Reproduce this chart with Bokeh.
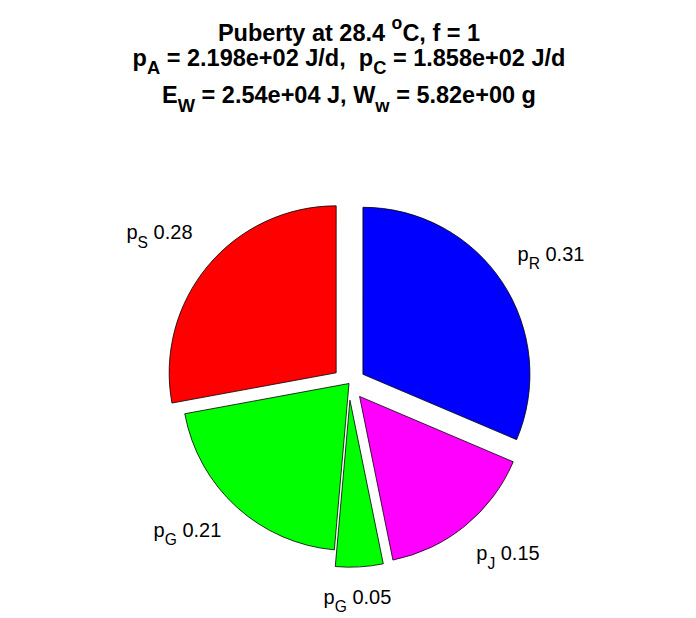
import numpy as np
from bokeh.plotting import figure
from bokeh.models import Range1d
from bokeh.core.properties import value
from bokeh.embed import file_html
from bokeh.resources import INLINE

# ---- data -------------------------------------------------------------
flux_subscripts = ["R", "J", "G", "G", "S"]
flux_fractions = [0.314, 0.154, 0.046, 0.207, 0.279]
slice_exploded = [1, 1, 1, 0, 1]
slice_colors = ["#0000ff", "#ff00ff", "#00ff00", "#00ff00", "#ff0000"]

temperature_C = 28.4
f_food = 1
p_A = 2.198e+02
p_C = 1.858e+02
E_W = 2.54e+04
W_w = 5.82e+00

# ---- layout -----------------------------------------------------------
W, H = 696, 618
CX, CY = 348.5, H - 383.0          # pie centre (y up)
R = 167.0                           # pie radius in px
EXPLODE = 0.1                       # slice offset as fraction of radius
# label placement around the pie: (radius factor, angle nudge in degrees)
label_radius = [1.413, 1.429, 1.3245, 1.3365, 1.4216]
label_nudge = [-2.35, 2.53, -1.04, -4.06, 2.74]

FONT = "Liberation Sans"
LABEL_SIZE = 20.0
TITLE_SIZE = 23.5
SUB_SCALE = 0.78
SUP_SCALE = 0.75
BASE_FIX = 0.40                     # alphabetic-baseline correction (em)

# Arial-compatible advance widths (1/1000 em)
W_REG = {" ": 278, ".": 278, ",": 278, "p": 556, "S": 667, "R": 722, "G": 778, "J": 500}
W_BOLD = {" ": 278, ".": 278, ",": 278, "P": 667, "u": 611, "b": 611, "e": 556, "r": 389,
          "t": 333, "y": 556, "a": 556, "o": 611, "C": 722, "f": 333, "=": 584, "+": 584,
          "p": 611, "A": 722, "J": 556, "/": 278, "d": 611, "E": 667, "W": 944, "w": 778,
          "g": 611}
for d in "0123456789":
    W_REG[d] = 556
    W_BOLD[d] = 556


def seg_width(s, size, bold):
    table = W_BOLD if bold else W_REG
    return sum(table.get(ch, 556) for ch in s) / 1000.0 * size


def draw_rich(p, xc, y_base, segments, size, bold, sub_drop):
    """Draw text runs (normal / sub / sup) centred at xc on baseline y_base."""
    runs = []
    for txt, kind in segments:
        if kind == "n":
            sz = size
        elif kind == "sub":
            sz = size * SUB_SCALE
        else:
            sz = size * SUP_SCALE
        runs.append((txt, kind, sz, seg_width(txt, sz, bold)))
    total = sum(r[3] for r in runs)
    x = xc - total / 2.0
    for txt, kind, sz, w in runs:
        dy = 0.0
        if kind == "sub":
            dy = -sub_drop * size
        elif kind == "sup":
            dy = 0.52 * size
        p.text(x=[x], y=[y_base + dy + BASE_FIX * sz], text=[txt.replace(" ", "\u00a0")],
               text_align="left", text_baseline="alphabetic", text_font=value(FONT),
               text_font_size=f"{sz:.1f}px",
               text_font_style="bold" if bold else "normal", text_color="black")
        x += w


p = figure(width=W, height=H, x_range=Range1d(0, W), y_range=Range1d(0, H),
           x_axis_type=None, y_axis_type=None, output_backend="svg",
           toolbar_location=None, min_border=0)
p.grid.visible = False
p.outline_line_color = None
p.background_fill_color = "white"
p.border_fill_color = "white"

# ---- exploded pie, clockwise from 12 o'clock -------------------------
fr = np.array(flux_fractions)
cum = np.concatenate([[0.0], np.cumsum(fr)])
theta_start = np.pi / 2 - 2 * np.pi * cum[:-1]
theta_end = np.pi / 2 - 2 * np.pi * cum[1:]
theta_mid = (theta_start + theta_end) / 2

ex = np.array(slice_exploded, dtype=float)
xs = CX + ex * EXPLODE * R * np.cos(theta_mid)
ys = CY + ex * EXPLODE * R * np.sin(theta_mid)
p.wedge(x=xs, y=ys, radius=R, start_angle=theta_end, end_angle=theta_start,
        direction="anticlock", fill_color=slice_colors, line_color="black",
        line_width=0.8)

# ---- slice labels ------------------------------------------------------
for i, (sub, frac) in enumerate(zip(flux_subscripts, flux_fractions)):
    ang = theta_mid[i] + np.deg2rad(label_nudge[i])
    lx = CX + label_radius[i] * R * np.cos(ang)
    ly = CY + label_radius[i] * R * np.sin(ang)
    draw_rich(p, lx, ly, [("p", "n"), (sub, "sub"), (f" {frac:.2f}", "n")],
              LABEL_SIZE, False, 0.40)

# ---- title -------------------------------------------------------------
line1 = [(f"Puberty at {temperature_C:g} ", "n"), ("o", "sup"), (f"C, f = {f_food:g}", "n")]
line2 = [("p", "n"), ("A", "sub"), (f" = {p_A:.3e} J/d,  p", "n"), ("C", "sub"),
         (f" = {p_C:.3e} J/d", "n")]
line3 = [("E", "n"), ("W", "sub"), (f" = {E_W:.2e} J, W", "n"), ("w", "sub"),
         (f" = {W_w:.2e} g", "n")]
draw_rich(p, 348.5, H - 42, line1, TITLE_SIZE, True, 0.32)
draw_rich(p, 348.5, H - 67, line2, TITLE_SIZE, True, 0.32)
draw_rich(p, 348.5, H - 104, line3, TITLE_SIZE, True, 0.36)

open("out.html", "w").write(file_html(p, INLINE))
